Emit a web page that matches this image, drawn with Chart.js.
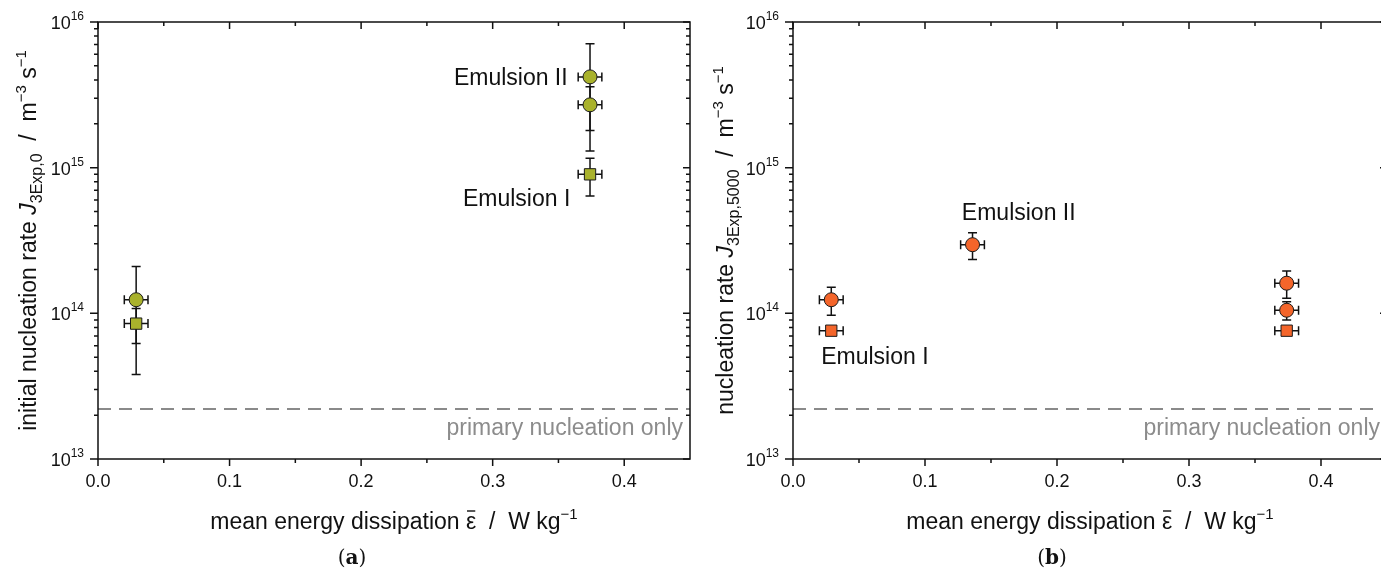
<!DOCTYPE html>
<html>
<head>
<meta charset="utf-8">
<script src="https://cdn.jsdelivr.net/npm/chart.js@4.4.1/dist/chart.umd.min.js"></script>
<style>
  body { margin: 0; background: #fff; }
  #wrap { position: relative; width: 1381px; height: 572px; overflow: hidden; }
  canvas { position: absolute; top: 0; }
</style>
</head>
<body>
<div id="wrap">
  <canvas id="chartA" width="700" height="572" style="left:0"></canvas>
  <canvas id="chartB" width="700" height="572" style="left:700px"></canvas>
</div>
<script>
// axis ticks
const xTicks = [0, 0.1, 0.2, 0.3, 0.4];
const xMinor = [0.05, 0.15, 0.25, 0.35];
const yTicks = [1e13, 1e14, 1e15, 1e16];
const yExp = ['13', '14', '15', '16'];
const primaryOnly = 2.2e13;

// (a) initial nucleation rate
const aCircleX = [0.029, 0.374, 0.374];
const aCircleY = [1.24e14, 4.2e15, 2.7e15];
const aCircleYErr = [0.86e14, 2.9e15, 0.9e15];
const aCircleXErr = [0.009, 0.009, 0.009];
const aSquareX = [0.029, 0.374];
const aSquareY = [8.5e13, 9.0e14];
const aSquareYErr = [2.3e13, 2.6e14];
const aSquareXErr = [0.009, 0.009];

// (b) nucleation rate after 5000
const bCircleX = [0.029, 0.136, 0.374, 0.374];
const bCircleY = [1.24e14, 2.96e14, 1.61e14, 1.05e14];
const bCircleYErr = [0.27e14, 0.62e14, 0.34e14, 0.15e14];
const bCircleXErr = [0.009, 0.009, 0.009, 0.009];
const bSquareX = [0.029, 0.374];
const bSquareY = [7.6e13, 7.6e13];
const bSquareYErr = [0.5e13, 0.5e13];
const bSquareXErr = [0.009, 0.009];

const FONT = '"Liberation Sans", Arial, sans-serif';

function pts(xs, ys) {
  return xs.map((x, i) => ({x: x, y: ys[i]}));
}

function drawRich(ctx, parts, x, y, align) {
  let w = 0;
  parts.forEach(p => { ctx.font = p.f; w += ctx.measureText(p.t).width; });
  let cx = align === 'right' ? x - w : align === 'left' ? x : x - w / 2;
  parts.forEach(p => {
    ctx.font = p.f;
    ctx.fillText(p.t, cx, y + (p.dy || 0));
    const pw = ctx.measureText(p.t).width;
    if (p.bar) {
      ctx.save();
      ctx.lineWidth = 1.4;
      ctx.beginPath();
      ctx.moveTo(cx + 1, y - 18);
      ctx.lineTo(cx + pw - 1, y - 18);
      ctx.stroke();
      ctx.restore();
    }
    cx += pw;
  });
}

function makeChart(id, o) {
  const ctx = document.getElementById(id).getContext('2d');

  const framePlugin = {
    id: 'frame' + id,
    beforeDatasetsDraw(chart) {
      const c = chart.ctx, xs = chart.scales.x, ys = chart.scales.y;
      c.save();
      c.strokeStyle = '#111';
      c.lineWidth = 1.5;
      o.errors.forEach(g => {
        g.x.forEach((xv, i) => {
          const px = xs.getPixelForValue(xv), py = ys.getPixelForValue(g.y[i]);
          const y1 = ys.getPixelForValue(g.y[i] + g.yErr[i]);
          const y2 = ys.getPixelForValue(g.y[i] - g.yErr[i]);
          const x1 = xs.getPixelForValue(xv - g.xErr[i]);
          const x2 = xs.getPixelForValue(xv + g.xErr[i]);
          c.beginPath();
          c.moveTo(px, y1); c.lineTo(px, y2);
          c.moveTo(px - 4.5, y1); c.lineTo(px + 4.5, y1);
          c.moveTo(px - 4.5, y2); c.lineTo(px + 4.5, y2);
          c.moveTo(x1, py); c.lineTo(x2, py);
          c.moveTo(x1, py - 4.5); c.lineTo(x1, py + 4.5);
          c.moveTo(x2, py - 4.5); c.lineTo(x2, py + 4.5);
          c.stroke();
        });
      });
      c.restore();
    },
    afterDraw(chart) {
      const c = chart.ctx, a = chart.chartArea, xs = chart.scales.x, ys = chart.scales.y;
      c.save();
      c.strokeStyle = '#111';
      c.lineWidth = 1.5;
      c.strokeRect(a.left, a.top, a.right - a.left, a.bottom - a.top);
      c.beginPath();
      xTicks.concat(xMinor).forEach(v => {
        const px = xs.getPixelForValue(v);
        const len = xMinor.includes(v) ? 4 : 7;
        c.moveTo(px, a.bottom); c.lineTo(px, a.bottom + len);
        c.moveTo(px, a.top); c.lineTo(px, a.top + len);
      });
      yTicks.forEach((v, k) => {
        const py = ys.getPixelForValue(v);
        c.moveTo(a.left - 8, py); c.lineTo(a.left, py);
        c.moveTo(a.right, py); c.lineTo(a.right - 7, py);
        if (k < yTicks.length - 1) {
          for (let m = 2; m <= 9; m++) {
            const pm = ys.getPixelForValue(v * m);
            c.moveTo(a.left - 4, pm); c.lineTo(a.left, pm);
            c.moveTo(a.right, pm); c.lineTo(a.right - 4, pm);
          }
        }
      });
      c.stroke();

      // tick labels
      c.fillStyle = '#111';
      c.textBaseline = 'middle';
      xTicks.forEach(v => {
        c.font = '18px ' + FONT;
        c.textAlign = 'center';
        c.fillText(v.toFixed(1), xs.getPixelForValue(v), a.bottom + 23);
      });
      c.textAlign = 'left';
      c.textBaseline = 'alphabetic';
      yTicks.forEach((v, k) => {
        const py = ys.getPixelForValue(v);
        drawRich(c, [
          {t: '10', f: '18px ' + FONT},
          {t: yExp[k], f: '12px ' + FONT, dy: -9}
        ], a.left - 14, py + 7, 'right');
      });

      // x title
      drawRich(c, [
        {t: 'mean energy dissipation ', f: '23px ' + FONT},
        {t: 'ε', f: '23px ' + FONT, bar: true},
        {t: '  /  W kg', f: '23px ' + FONT},
        {t: '−1', f: '15px ' + FONT, dy: -10}
      ], (a.left + a.right) / 2, a.bottom + 70, 'center');

      // y title
      c.save();
      c.translate(o.yTitleX, (a.top + a.bottom) / 2);
      c.rotate(-Math.PI / 2);
      drawRich(c, [
        {t: o.yTitle, f: '23px ' + FONT},
        {t: 'J', f: 'italic 23px ' + FONT},
        {t: o.ySub, f: '16px ' + FONT, dy: 6},
        {t: '  /  m', f: '23px ' + FONT},
        {t: '−3', f: '15px ' + FONT, dy: -10},
        {t: ' s', f: '23px ' + FONT},
        {t: '−1', f: '15px ' + FONT, dy: -10}
      ], 0, 8, 'center');
      c.restore();

      // panel letter
      drawRich(c, [
        {t: '(', f: '20px "DejaVu Serif", "Liberation Serif", serif'},
        {t: o.letter, f: 'bold 20px "DejaVu Serif", "Liberation Serif", serif'},
        {t: ')', f: '20px "DejaVu Serif", "Liberation Serif", serif'}
      ], 352, 564, 'center');

      // annotations
      c.textBaseline = 'middle';
      c.font = '23px ' + FONT;
      o.labels.forEach(l => {
        c.textAlign = l.align;
        c.fillText(l.text, xs.getPixelForValue(l.x), ys.getPixelForValue(l.y));
      });
      c.fillStyle = '#8c8c8c';
      c.textAlign = 'right';
      c.fillText('primary nucleation only', a.right - 7, ys.getPixelForValue(1.62e13));
      c.restore();
    }
  };

  return new Chart(ctx, {
    type: 'scatter',
    data: {
      datasets: [
        {
          type: 'line',
          data: [{x: 0, y: primaryOnly}, {x: 0.45, y: primaryOnly}],
          borderColor: '#8a8a8a',
          borderWidth: 2,
          borderDash: [13, 8],
          pointRadius: 0
        },
        {
          data: pts(o.cx, o.cy),
          pointStyle: 'circle',
          pointRadius: 7,
          backgroundColor: o.color,
          borderColor: '#1a1a1a',
          borderWidth: 1
        },
        {
          data: pts(o.sx, o.sy),
          pointStyle: 'rect',
          pointRadius: 8,
          backgroundColor: o.color,
          borderColor: '#1a1a1a',
          borderWidth: 1
        }
      ]
    },
    options: {
      responsive: false,
      animation: false,
      layout: {padding: {top: 22, right: o.padRight, left: 0, bottom: 0}},
      plugins: {legend: {display: false}, tooltip: {enabled: false}},
      scales: {
        x: {
          type: 'linear', min: 0, max: 0.45,
          ticks: {display: false},
          grid: {display: false, drawTicks: false},
          border: {display: false},
          afterFit: s => { s.height = 113; }
        },
        y: {
          type: 'logarithmic', min: 1e13, max: 1e16,
          ticks: {display: false},
          grid: {display: false, drawTicks: false},
          border: {display: false},
          afterFit: s => { s.width = o.yWidth; }
        }
      }
    },
    plugins: [framePlugin]
  });
}

makeChart('chartA', {
  cx: aCircleX, cy: aCircleY, sx: aSquareX, sy: aSquareY,
  color: '#a9b22c',
  errors: [
    {x: aCircleX, y: aCircleY, yErr: aCircleYErr, xErr: aCircleXErr},
    {x: aSquareX, y: aSquareY, yErr: aSquareYErr, xErr: aSquareXErr}
  ],
  yWidth: 98, padRight: 10, yTitleX: 28,
  yTitle: 'initial nucleation rate ', ySub: '3Exp,0', letter: 'a',
  labels: [
    {text: 'Emulsion II', x: 0.357, y: 4.1e15, align: 'right'},
    {text: 'Emulsion I', x: 0.359, y: 6.0e14, align: 'right'}
  ]
});

makeChart('chartB', {
  cx: bCircleX, cy: bCircleY, sx: bSquareX, sy: bSquareY,
  color: '#f4652a',
  errors: [
    {x: bCircleX, y: bCircleY, yErr: bCircleYErr, xErr: bCircleXErr},
    {x: bSquareX, y: bSquareY, yErr: bSquareYErr, xErr: bSquareXErr}
  ],
  yWidth: 93, padRight: 13, yTitleX: 25,
  yTitle: 'nucleation rate ', ySub: '3Exp,5000', letter: 'b',
  labels: [
    {text: 'Emulsion II', x: 0.171, y: 4.84e14, align: 'center'},
    {text: 'Emulsion I', x: 0.062, y: 5.0e13, align: 'center'}
  ]
});
</script>
</body>
</html>
